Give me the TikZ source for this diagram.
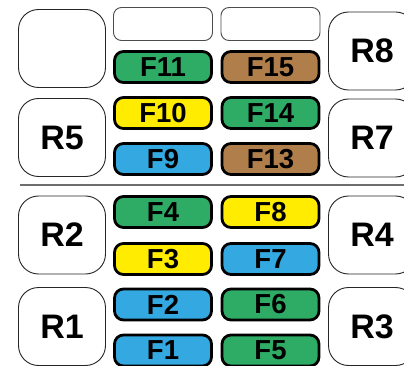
\documentclass[tikz,border=0pt]{standalone}
\usepackage{fontspec}
\setmainfont{Liberation Sans}
\definecolor{fgreen}{RGB}{46,172,102}
\definecolor{fyellow}{RGB}{255,236,0}
\definecolor{fblue}{RGB}{52,168,224}
\definecolor{fbrown}{RGB}{176,126,74}
\definecolor{sepgray}{RGB}{110,110,110}
\tikzset{
  fuse/.style={draw=black, line width=2.8pt, rounded corners=9pt, minimum width=97pt, minimum height=31pt, inner sep=0pt, font=\fontsize{27.5}{27.5}\selectfont\bfseries},
  blankfuse/.style={draw=black!70, line width=0.9pt, rounded corners=8pt, minimum width=99pt, minimum height=33pt, inner sep=0pt, fill=white},
  relay/.style={draw=black!85, line width=0.9pt, rounded corners=20pt, minimum width=87pt, minimum height=78pt, inner sep=0pt, fill=white, font=\fontsize{34}{34}\selectfont\bfseries}
}
\begin{document}
\begin{tikzpicture}[x=1pt,y=-1pt]
\clip (0,0) rectangle (404,366);
\fill[white] (0,0) rectangle (404,366);
% relays left
\node[relay] (rblank) at (62,48.5) {};
\node[relay] (r5) at (62,137.5) {R5};
\node[relay] (r2) at (62,235) {R2};
\node[relay] (r1) at (62,326.5) {R1};
% relays right (cut by the edge)
\node[relay] (r8) at (372,51) {R8};
\node[relay] (r7) at (372,138) {R7};
\node[relay] (r4) at (372,235) {R4};
\node[relay] (r3) at (372,326.5) {R3};
% separator
\coordinate (sepl) at (20,185);
\coordinate (sepr) at (404,185);
\draw[sepgray, line width=1.3pt] (sepl) -- (sepr);
% fuses
\node[blankfuse] (b1) at (163,24) {};
\node[blankfuse] (b2) at (270.5,24) {};
\node[fuse, fill=fgreen] (f11) at (163,67) {F11};
\node[fuse, fill=fbrown] (f15) at (270.5,67) {F15};
\node[fuse, fill=fyellow] (f10) at (163,113) {F10};
\node[fuse, fill=fgreen] (f14) at (270.5,113) {F14};
\node[fuse, fill=fblue] (f9) at (163,159) {F9};
\node[fuse, fill=fbrown] (f13) at (270.5,159) {F13};
\node[fuse, fill=fgreen] (f4) at (163,212) {F4};
\node[fuse, fill=fyellow] (f8) at (270.5,212) {F8};
\node[fuse, fill=fyellow] (f3) at (163,259) {F3};
\node[fuse, fill=fblue] (f7) at (270.5,259) {F7};
\node[fuse, fill=fblue] (f2) at (163,304.5) {F2};
\node[fuse, fill=fgreen] (f6) at (270.5,304.5) {F6};
\node[fuse, fill=fblue] (f1) at (163,350.5) {F1};
\node[fuse, fill=fgreen] (f5) at (270.5,350.5) {F5};
\end{tikzpicture}
\end{document}
